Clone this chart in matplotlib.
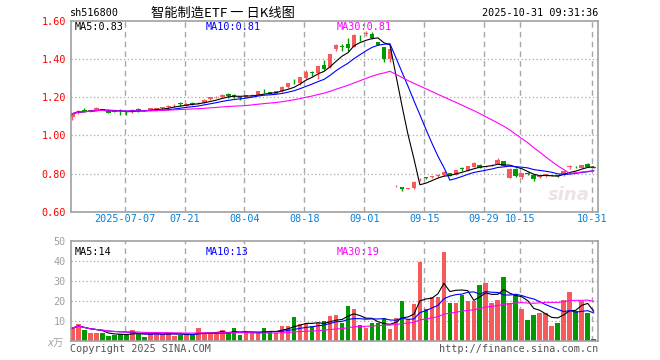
import matplotlib
matplotlib.use("Agg")
import matplotlib.pyplot as plt
import numpy as np
import pandas as pd

# ---------------- data ----------------
dates = (["06-24", "06-25", "06-26", "06-27", "06-30"]
         + ["07-01", "07-02", "07-03", "07-04", "07-07", "07-08", "07-09", "07-10", "07-11",
            "07-14", "07-15", "07-16", "07-17", "07-18", "07-21", "07-22", "07-23", "07-24",
            "07-25", "07-28", "07-29", "07-30", "07-31"]
         + ["08-01", "08-04", "08-05", "08-06", "08-07", "08-08", "08-11", "08-12", "08-13",
            "08-14", "08-15", "08-18", "08-19", "08-20", "08-21", "08-22", "08-25", "08-26",
            "08-27", "08-28", "08-29"]
         + ["09-01", "09-02", "09-03", "09-04", "09-05", "09-08", "09-09", "09-10", "09-11",
            "09-12", "09-15", "09-16", "09-17", "09-18", "09-19", "09-22", "09-23", "09-24",
            "09-25", "09-26", "09-29", "09-30"]
         + ["10-09", "10-10", "10-13", "10-14", "10-15", "10-16", "10-17", "10-20", "10-21",
            "10-22", "10-23", "10-24", "10-27", "10-28", "10-29", "10-30", "10-31"])

tick_dates = ["07-07", "07-21", "08-04", "08-18", "09-01", "09-15", "09-29", "10-15", "10-31"]
tick_texts = ["2025-07-07", "07-21", "08-04", "08-18", "09-01", "09-15", "09-29", "10-15", "10-31"]

opens = [1.095, 1.115, 1.133, 1.125, 1.132, 1.139, 1.135, 1.128, 1.129, 1.125,
         1.121, 1.134, 1.131, 1.128, 1.139, 1.145, 1.151, 1.158, 1.168, 1.153,
         1.168, 1.168, 1.170, 1.189, 1.199, 1.200, 1.219, 1.208, 1.199, 1.197,
         1.207, 1.214, 1.233, 1.228, 1.218, 1.232, 1.256, 1.285, 1.277, 1.302,
         1.331, 1.326, 1.370, 1.358, 1.452, 1.466, 1.482, 1.466, 1.512, 1.531,
         1.530, 1.488, 1.462, 1.402, 0.733, 0.730, 0.719, 0.724, 0.769, 0.779,
         0.782, 0.788, 0.791, 0.803, 0.795, 0.825, 0.816, 0.834, 0.846, 0.836,
         0.843, 0.851, 0.864, 0.779, 0.825, 0.780, 0.800, 0.792, 0.780, 0.785,
         0.789, 0.791, 0.791, 0.834, 0.834, 0.830, 0.852, 0.833]
closes = [1.114, 1.130, 1.130, 1.132, 1.146, 1.134, 1.118, 1.125, 1.126, 1.121,
          1.135, 1.132, 1.128, 1.142, 1.142, 1.147, 1.153, 1.160, 1.166, 1.167,
          1.166, 1.170, 1.187, 1.200, 1.201, 1.213, 1.208, 1.206, 1.197, 1.210,
          1.213, 1.231, 1.231, 1.218, 1.231, 1.256, 1.273, 1.283, 1.305, 1.333,
          1.329, 1.364, 1.348, 1.425, 1.476, 1.464, 1.457, 1.528, 1.509, 1.535,
          1.510, 1.475, 1.400, 1.455, 0.735, 0.718, 0.724, 0.758, 0.771, 0.777,
          0.784, 0.791, 0.809, 0.789, 0.819, 0.823, 0.838, 0.856, 0.831, 0.838,
          0.845, 0.872, 0.840, 0.826, 0.789, 0.801, 0.798, 0.769, 0.786, 0.797,
          0.791, 0.789, 0.814, 0.837, 0.832, 0.844, 0.834, 0.830]
highs = [1.116, 1.132, 1.142, 1.134, 1.148, 1.141, 1.137, 1.130, 1.139, 1.126,
         1.137, 1.142, 1.133, 1.144, 1.144, 1.150, 1.160, 1.167, 1.174, 1.168,
         1.174, 1.174, 1.189, 1.202, 1.206, 1.215, 1.222, 1.215, 1.206, 1.212,
         1.215, 1.233, 1.241, 1.230, 1.233, 1.258, 1.275, 1.294, 1.307, 1.342,
         1.340, 1.366, 1.395, 1.428, 1.478, 1.480, 1.510, 1.532, 1.525, 1.548,
         1.540, 1.490, 1.464, 1.457, 0.742, 0.732, 0.726, 0.760, 0.777, 0.782,
         0.788, 0.796, 0.811, 0.805, 0.821, 0.833, 0.840, 0.858, 0.848, 0.842,
         0.850, 0.879, 0.866, 0.828, 0.827, 0.803, 0.806, 0.794, 0.788, 0.799,
         0.795, 0.795, 0.816, 0.844, 0.840, 0.846, 0.854, 0.834]
lows = [1.080, 1.113, 1.122, 1.123, 1.130, 1.132, 1.116, 1.122, 1.105, 1.107,
        1.119, 1.121, 1.126, 1.126, 1.137, 1.140, 1.140, 1.150, 1.156, 1.152,
        1.160, 1.163, 1.168, 1.187, 1.195, 1.198, 1.196, 1.198, 1.188, 1.195,
        1.205, 1.212, 1.225, 1.216, 1.216, 1.230, 1.248, 1.268, 1.266, 1.297,
        1.314, 1.297, 1.342, 1.355, 1.445, 1.443, 1.445, 1.462, 1.495, 1.520,
        1.505, 1.473, 1.385, 1.385, 0.727, 0.710, 0.717, 0.718, 0.760, 0.774,
        0.778, 0.783, 0.789, 0.787, 0.793, 0.815, 0.814, 0.832, 0.829, 0.833,
        0.840, 0.849, 0.838, 0.777, 0.781, 0.770, 0.792, 0.760, 0.778, 0.783,
        0.787, 0.780, 0.789, 0.826, 0.828, 0.828, 0.832, 0.829]
volumes = [6.3, 8.3, 5.3, 4.0, 4.0, 3.7, 2.3, 3.0, 3.3, 3.0,
           5.3, 3.3, 2.0, 3.3, 4.3, 3.3, 4.0, 2.3, 3.0, 3.0,
           3.0, 6.3, 3.7, 3.7, 3.7, 5.3, 3.7, 6.3, 2.7, 4.3,
           4.0, 4.0, 6.3, 4.7, 4.0, 7.3, 7.3, 11.7, 8.3, 8.7,
           7.3, 9.0, 10.0, 12.3, 12.7, 9.0, 17.3, 16.0, 7.7, 6.3,
           8.7, 8.7, 11.3, 6.0, 11.3, 20.0, 10.7, 18.3, 39.3, 16.0,
           22.0, 21.7, 44.3, 19.0, 19.0, 22.7, 20.0, 20.0, 28.0, 28.7,
           19.0, 20.3, 32.0, 18.7, 23.0, 16.0, 10.3, 12.7, 14.0, 14.0,
           7.3, 9.0, 20.3, 24.3, 15.0, 19.7, 14.0, 1.0]

price_ticks = [0.60, 0.80, 1.00, 1.20, 1.40, 1.60]
vol_ticks = [10, 20, 30, 40, 50]
ma_windows = [5, 10, 30]
price_ma_text = ["MA5:0.83", "MA10:0.81", "MA30:0.81"]
vol_ma_text = ["MA5:14", "MA10:13", "MA30:19"]

# ---------------- style ----------------
RED = "#F65A5A"
GREEN = "#009A00"
MA_COLORS = ["#000000", "#0000FF", "#FF00FF"]
GRID = "#A8A8A8"
BORDER = "#A0A0A0"
MONO = "DejaVu Sans Mono"
FS = 7.3

plt.rcParams["font.family"] = [MONO, "Noto Sans CJK SC"]

W, H = 660, 360
fig = plt.figure(figsize=(W / 100, H / 100), dpi=100)
fig.patch.set_facecolor("white")


def fx(px):
    return px / W


def fy(py):
    return 1 - py / H


L, R = 70.7, 598.0
ax = fig.add_axes([fx(L), fy(211.7), fx(R - L), fy(21.0) - fy(211.7)])
axv = fig.add_axes([fx(L), fy(340.7), fx(R - L), fy(240.7) - fy(340.7)])

n = len(dates)
x = np.arange(n)
o = np.array(opens)
c = np.array(closes)
h = np.array(highs)
lo = np.array(lows)
v = np.array(volumes)
up = c >= o
cols = [RED if u else GREEN for u in up]

OFF = 0.28  # grid line offset to the left of candle centre
XL = (-OFF, n - OFF)

# faint watermark (behind everything)
ax.text(0.945, 0.09, "sina", transform=ax.transAxes, color="#EDE3E3", fontsize=13,
        fontweight="bold", style="italic", family="DejaVu Sans", va="center",
        ha="center", zorder=0)

# grid lines
tick_idx = [dates.index(d) for d in tick_dates]
for a in (ax, axv):
    for ti in tick_idx:
        a.axvline(ti - OFF, color=GRID, lw=1.0, ls=(0, (4, 3)), zorder=0)

for p in price_ticks[1:-1]:
    ax.axhline(p, color=GRID, lw=0.9, ls=(0, (1, 2)), zorder=0)
for vt in vol_ticks[:-1]:
    axv.axhline(vt, color=GRID, lw=0.9, ls=(0, (1, 2)), zorder=0)

# candles
ax.vlines(x, lo, h, colors=cols, lw=1.0, zorder=2)
body_h = np.maximum(np.abs(c - o), 0.004)
body_b = np.minimum(o, c)
ax.bar(x, body_h, bottom=body_b, width=0.78, color=cols, edgecolor=cols,
       linewidth=0, zorder=3)

# MAs
cs = pd.Series(c)
vs = pd.Series(v)
for wdw, col in zip(ma_windows, MA_COLORS):
    ax.plot(x, cs.rolling(wdw, min_periods=1).mean(), color=col, lw=0.8, zorder=4)
    axv.plot(x, vs.rolling(wdw, min_periods=1).mean(), color=col, lw=0.8, zorder=4)

# volume bars
axv.bar(x, v, width=0.78, color=cols, linewidth=0, zorder=2)

# axes styling
ax.set_xlim(*XL)
ax.set_ylim(price_ticks[0], price_ticks[-1])
axv.set_xlim(*XL)
axv.set_ylim(0, vol_ticks[-1])

for a in (ax, axv):
    for s in a.spines.values():
        s.set_color(BORDER)
        s.set_linewidth(1.2)
    a.tick_params(length=0)

ax.set_yticks(price_ticks)
ax.set_yticklabels([f"{p:.2f}" for p in price_ticks], color="#FF0000",
                   fontsize=FS, family=MONO)
ax.tick_params(axis="y", pad=3.5)
ax.set_xticks([ti - OFF for ti in tick_idx])
ax.set_xticklabels(tick_texts, color="#0080E0", fontsize=FS, family=MONO)
ax.tick_params(axis="x", pad=2.0)

axv.set_yticks(vol_ticks)
axv.set_yticklabels([str(t) for t in vol_ticks], color="#A0A0A0", fontsize=FS, family=MONO)
axv.tick_params(axis="y", pad=3.5)
axv.set_xticks([])

# MA labels
for txt, col, px in zip(price_ma_text, MA_COLORS, [75, 206, 337]):
    fig.text(fx(px), fy(27.5), txt, color=col, fontsize=FS, family=MONO, va="center", ha="left")
for txt, col, px in zip(vol_ma_text, MA_COLORS, [75, 206, 337]):
    fig.text(fx(px), fy(252), txt, color=col, fontsize=FS, family=MONO, va="center", ha="left")

# header
fig.text(fx(70), fy(13), "sh516800", color="#000000", fontsize=FS, family=MONO, va="center", ha="left")
fig.text(fx(223), fy(13), "智能制造ETF 一 日K线图", color="#000000", fontsize=9.5,
         family=["Noto Sans CJK SC", MONO], va="center", ha="center")
fig.text(fx(598), fy(13), "2025-10-31 09:31:36", color="#000000", fontsize=FS, family=MONO,
         va="center", ha="right")

# footer
fig.text(fx(47), fy(343), "x万", color="#A0A0A0", fontsize=FS, style="italic",
         family=[MONO, "Noto Sans CJK SC"], va="center", ha="left")
fig.text(fx(70), fy(349), "Copyright 2025 SINA.COM", color="#555555", fontsize=FS,
         family=MONO, va="center", ha="left")
fig.text(fx(598), fy(349), "http://finance.sina.com.cn", color="#555555", fontsize=FS,
         family=MONO, va="center", ha="right")

fig.savefig("out.png", dpi=100, facecolor="white")
